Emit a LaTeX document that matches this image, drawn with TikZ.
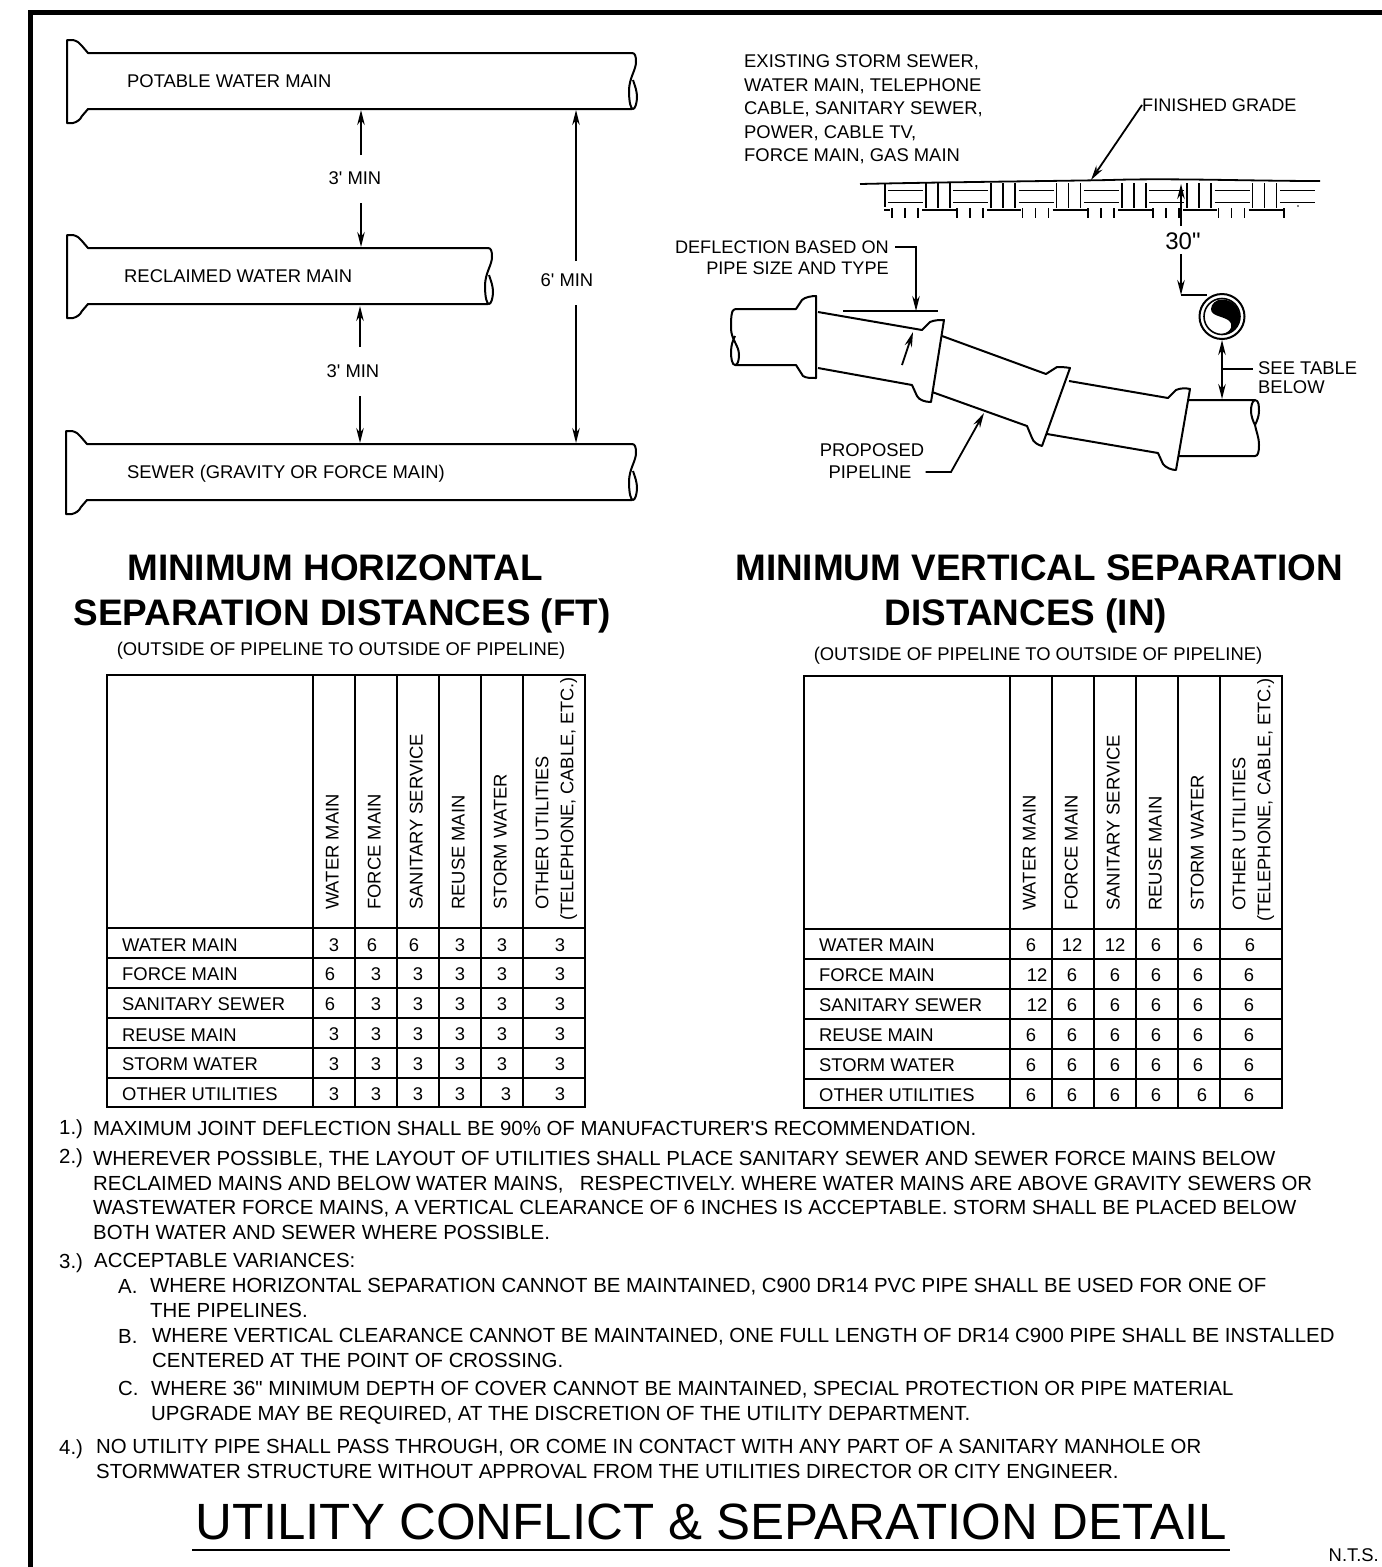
\documentclass[tikz,border=0pt]{standalone}
\usepackage{fontspec}
\setmainfont{Liberation Sans}[Ligatures=TeXOff]
\usetikzlibrary{arrows.meta}
\tikzset{
  lab/.style={inner sep=0pt,text height=13.2pt,text depth=0pt,font=\fontsize{18.4}{22}\selectfont,text=black},
  labnarrow/.style={lab,font=\fontsize{18.15}{22}\selectfont},
  note/.style={inner sep=0pt,anchor=north west,align=left,font=\fontsize{20.4}{24.7}\selectfont,text=black},
  val/.style={lab,anchor=center},
  rowlab/.style={lab,anchor=west},
  collab/.style={lab,rotate=90,anchor=west},
  heading/.style={inner sep=0pt,font=\bfseries\fontsize{36.9}{37}\selectfont,text height=26.5pt,text depth=0pt},
  pipeline/.style={line width=2pt,line join=round},
  lead/.style={line width=1.8pt},
  tipa/.style={lead,-{Stealth[length=15pt,width=7.5pt]}},
  tipb/.style={lead,{Stealth[length=15pt,width=7.5pt]}-{Stealth[length=15pt,width=7.5pt]}},
  hatch/.style={line width=1.7pt},
  grid/.style={line width=2pt}
}
\newcommand{\hpipe}[3]{%
\begin{scope}[shift={(#1,#2)}]
\draw[pipeline] (#3,0) -- (21,0) -- (15,-7) .. controls (13,-10) and (10,-12) .. (6,-13) -- (0,-13) -- (0,70) -- (6,70) .. controls (10,69) and (13,67) .. (15,63) -- (21,56) -- (#3,56);
\begin{scope}[shift={(#3,0)}]
\draw[pipeline] (0,0) .. controls (3,0) and (4,3) .. (4,9) .. controls (4,17) and (-3,25) .. (-3,38) .. controls (-3,50) and (-1,56) .. (1,56) .. controls (3,56) and (5,50) .. (5,44) .. controls (5,38) and (3,33) .. (1,27);
\end{scope}
\end{scope}}
\newcommand{\tablegrid}[2]{%
\begin{scope}[shift={(#1,#2)}]
\draw[grid] (0,0) rectangle (478,432);
\foreach \v in {206,248,290,332,374,416} \draw[grid] (\v,0) -- (\v,432);
\foreach \h in {253,283,313,343,373,403} \draw[grid] (0,\h) -- (478,\h);
\end{scope}}
\begin{document}
\begin{tikzpicture}[x=1pt,y=-1pt]
\useasboundingbox (0,0) rectangle (1382,1567);
\fill[white] (0,0) rectangle (1382,1567);
\draw[line width=5.5pt] (30.5,1567) -- (30.5,12.5) -- (1382,12.5);

% left pipes
\hpipe{67}{53}{565}
\hpipe{67}{248}{421}
\hpipe{66}{444}{566}
\node[lab,anchor=west] (potable) at (127,81) {POTABLE WATER MAIN};
\node[lab,anchor=west] (reclaimed) at (124,276) {RECLAIMED WATER MAIN};
\node[lab,anchor=west] (sewer) at (127,472) {SEWER (GRAVITY OR FORCE MAIN)};
\node[lab] (dimA) at (355,178) {3' MIN};
\node[lab] (dimB) at (353,371) {3' MIN};
\node[lab] (dimC) at (567,280) {6' MIN};
\coordinate (a1) at (361,110); \coordinate (a2) at (361,155);
\coordinate (a3) at (361,203); \coordinate (a4) at (361,247);
\coordinate (b1) at (360,306); \coordinate (b2) at (360,347);
\coordinate (b3) at (360,396); \coordinate (b4) at (360,443);
\coordinate (c1) at (576,110); \coordinate (c2) at (576,261);
\coordinate (c3) at (576,305); \coordinate (c4) at (576,443);
\draw[tipa] (a2) -- (a1);
\draw[tipa] (a3) -- (a4);
\draw[tipa] (b2) -- (b1);
\draw[tipa] (b3) -- (b4);
\draw[tipa] (c2) -- (c1);
\draw[tipa] (c3) -- (c4);

% upper right texts
\node[note,font=\fontsize{18.4}{23.5}\selectfont] (exist) at (744,54.5) {EXISTING STORM SEWER,\\WATER MAIN, TELEPHONE\\CABLE, SANITARY SEWER,\\POWER, CABLE TV,\\FORCE MAIN, GAS MAIN};
\node[labnarrow,anchor=west] (grade) at (1142,105) {FINISHED GRADE};
\coordinate (gradepoint) at (1091,180);
\draw[tipa] (grade.west) -- (gradepoint);

% ground
\draw[line width=1.8pt] (860,184) .. controls (950,182) and (1060,181) .. (1110,180) .. controls (1170,178) and (1250,181) .. (1320,181);
\foreach \k in {0,...,6} {
  \draw[hatch] ({888+65.3*\k},190.5) -- ({923+65.3*\k},190.5);
  \draw[hatch] ({888+65.3*\k},202.5) -- ({923+65.3*\k},202.5);
}
\draw[hatch] (885,183) -- (885,207);
\foreach \k in {0,...,5} {
  \foreach \d in {0,12,24} \draw[hatch] ({926+65.3*\k+\d},183) -- ({926+65.3*\k+\d},208);
  \draw[hatch] ({922+65.3*\k},210) -- ({956+65.3*\k},210);
}
\draw[hatch] (884,210) -- (890,210);
\foreach \k in {0,...,5} {
  \foreach \d in {0,13,26} \draw[hatch] ({892+65.3*\k+\d},208) -- ({892+65.3*\k+\d},218);
}
\draw[hatch] (1284,208) -- (1284,218);
\fill (1298,206) circle (0.8);

% 30 inch dimension
\node[inner sep=0pt,font=\fontsize{24}{24}\selectfont] (thirty) at (1183,241) {30"};
\coordinate (t1) at (1181,184); \coordinate (t2) at (1181,226);
\coordinate (t3) at (1181,254); \coordinate (t4) at (1181,295); \coordinate (t5) at (1207,295);
\draw[tipa] (t2) -- (t1);
\draw[tipa] (t3) -- (t4);
\draw[lead] (t4) -- (t5);

% crossing pipe
\coordinate (cross) at (1222,316.5);
\draw[line width=2pt] (cross) circle (22.5);
\draw[line width=1.6pt] (cross) circle (18);
\fill (1222,334) .. controls (1233,334) and (1239.5,326) .. (1239.5,316.5) .. controls (1239.5,306) and (1231,299.5) .. (1222,299.5) .. controls (1216,299.5) and (1211,304) .. (1211,309) .. controls (1211,316) and (1222,316) .. (1228,320) .. controls (1234,324) and (1232,332) .. (1222,334) -- cycle;

% deflection label
\node[labnarrow,anchor=east] (defl) at (889,247) {DEFLECTION BASED ON};
\node[labnarrow,anchor=east] (defl2) at (889,268) {PIPE SIZE AND TYPE};
\coordinate (dc) at (916,247); \coordinate (dd) at (916,311);
\draw[tipa] (defl.east) ++(6,0) -- (dc) -- (dd);
\coordinate (rl) at (843,311); \coordinate (rr) at (938,311);
\draw[lead] (rl) -- (rr);
\coordinate (sa) at (902,365); \coordinate (sb) at (913,332);
\draw[tipa] (sa) -- (sb);

% proposed pipeline
\draw[pipeline] (735,309) -- (796,309) -- (802,300) .. controls (805,297) and (812,296) .. (816,296) -- (816,378) .. controls (810,378) and (806,378) .. (803,376) -- (796,365) -- (735,365);
\draw[pipeline] (735,309) .. controls (731,309) and (731,320) .. (731,328) .. controls (731,340) and (739,345) .. (739,355) .. controls (739,362) and (737,365) .. (735,365) .. controls (732,365) and (731,358) .. (731,352) .. controls (731,345) and (733,340) .. (735,336);
\draw[pipeline] (818,312) -- (922,330) -- (930,322) .. controls (934,320) and (940,320) .. (944,320) -- (931,402) .. controls (925,402) and (919,400) .. (917,396) -- (912,385) -- (818,368);
\draw[pipeline] (942,336) -- (1046,374) -- (1057,367) .. controls (1060,367) and (1065,367) .. (1070,368) -- (1042,446) .. controls (1038,445) and (1033,442) .. (1032,438) -- (1027,426) -- (932,392);
\draw[pipeline] (1069,381) -- (1168,398) -- (1176,390) .. controls (1180,388) and (1186,388) .. (1190,389) -- (1176,470) .. controls (1172,470) and (1166,468) .. (1163,464) -- (1158,453) -- (1047,434);
\draw[pipeline] (1189,400) -- (1255,400) .. controls (1259,400) and (1259,407) .. (1259,411) .. controls (1259,416) and (1257,421) .. (1255,425) .. controls (1256,431) and (1259,437) .. (1259,445) .. controls (1259,452) and (1258,456) .. (1255,456) -- (1178,456);
\draw[pipeline] (1255,400) .. controls (1252,401) and (1251,406) .. (1251,411) .. controls (1251,416) and (1253,421) .. (1255,425);

% see table
\node[note,font=\fontsize{18.4}{19.2}\selectfont] (seetable) at (1258,361.5) {SEE TABLE\\BELOW};
\coordinate (s1) at (1222,340); \coordinate (s2) at (1222,399); \coordinate (s3) at (1222,369); \coordinate (s4) at (1253,369);
\draw[tipb] (s1) -- (s2);
\draw[lead] (s3) -- (s4);

% proposed label
\node[lab] (prop1) at (872,450) {PROPOSED};
\node[lab] (prop2) at (870,472) {PIPELINE};
\coordinate (pc) at (951,472); \coordinate (pd) at (984,413);
\draw[tipa] (prop2.east) ++(14,0) -- (pc) -- (pd);

% headings
\node[heading] (h1) at (335,567) {MINIMUM HORIZONTAL};
\node[heading] (h2) at (342,612) {SEPARATION DISTANCES (FT)};
\node[heading] (h3) at (1039,567) {MINIMUM VERTICAL SEPARATION};
\node[heading] (h4) at (1026,612) {DISTANCES (IN)};
\node[lab] (sub1) at (341,649) {(OUTSIDE OF PIPELINE TO OUTSIDE OF PIPELINE)};
\node[lab] (sub2) at (1038,654) {(OUTSIDE OF PIPELINE TO OUTSIDE OF PIPELINE)};

% tables
\tablegrid{107}{675}
\tablegrid{804}{676}
\foreach \xo/\yo/\tn in {0/0/L,697/1/R} {
  \node[collab] (\tn hA) at ({332+\xo},{910+\yo}) {WATER MAIN};
  \node[collab] (\tn hB) at ({374+\xo},{910+\yo}) {FORCE MAIN};
  \node[collab] (\tn hC) at ({416+\xo},{910+\yo}) {SANITARY SERVICE};
  \node[collab] (\tn hD) at ({458+\xo},{910+\yo}) {REUSE MAIN};
  \node[collab] (\tn hE) at ({500+\xo},{910+\yo}) {STORM WATER};
  \node[inner sep=0pt,rotate=90,anchor=north west,align=left,font=\fontsize{18.2}{25}\selectfont] (\tn hF) at ({535.5+\xo},{921+\yo}) {\hspace*{11pt}OTHER UTILITIES\\(TELEPHONE, CABLE, ETC.)};
  \node[rowlab] (\tn rA) at ({122+\xo},{945}) {WATER MAIN};
  \node[rowlab] (\tn rB) at ({122+\xo},{974+\yo}) {FORCE MAIN};
  \node[rowlab] (\tn rC) at ({122+\xo},{1004+\yo}) {SANITARY SEWER};
  \node[rowlab] (\tn rD) at ({122+\xo},{1035}) {REUSE MAIN};
  \node[rowlab] (\tn rE) at ({122+\xo},{1064+\yo}) {STORM WATER};
  \node[rowlab] (\tn rF) at ({122+\xo},{1094+\yo}) {OTHER UTILITIES};
}
\foreach \px/\py/\v [count=\n] in {
 334/945/3,372/945/6,414/945/6,460/945/3,502/945/3,560/945/3,
 330/974/6,376/974/3,418/974/3,460/974/3,502/974/3,560/974/3,
 330/1004/6,376/1004/3,418/1004/3,460/1004/3,502/1004/3,560/1004/3,
 334/1034/3,376/1034/3,418/1034/3,460/1034/3,502/1034/3,560/1034/3,
 334/1064/3,376/1064/3,418/1064/3,460/1064/3,502/1064/3,560/1064/3,
 334/1094/3,376/1094/3,418/1094/3,460/1094/3,506/1094/3,560/1094/3}
 \node[val] (lv\n) at (\px,\py) {\v};
\foreach \px/\py/\v [count=\n] in {
 1031/945/6,1072/945/12,1115/945/12,1156/945/6,1198/945/6,1250/945/6,
 1037/975/12,1072/975/6,1115/975/6,1156/975/6,1198/975/6,1249/975/6,
 1037/1005/12,1072/1005/6,1115/1005/6,1156/1005/6,1198/1005/6,1249/1005/6,
 1031/1035/6,1072/1035/6,1115/1035/6,1156/1035/6,1198/1035/6,1249/1035/6,
 1031/1065/6,1072/1065/6,1115/1065/6,1156/1065/6,1198/1065/6,1249/1065/6,
 1031/1095/6,1072/1095/6,1115/1095/6,1156/1095/6,1202/1095/6,1249/1095/6}
 \node[val] (rv\n) at (\px,\py) {\v};

% notes
\node[note] (n1) at (59,1120) {1.)};
\node[note] (n1t) at (93,1121) {MAXIMUM JOINT DEFLECTION SHALL BE 90\% OF MANUFACTURER'S RECOMMENDATION.};
\node[note] (n2) at (59,1149) {2.)};
\node[note] (n2t) at (93,1151) {WHEREVER POSSIBLE, THE LAYOUT OF UTILITIES SHALL PLACE SANITARY SEWER AND SEWER FORCE MAINS BELOW\\RECLAIMED MAINS AND BELOW WATER MAINS,\ \ \hspace{5pt}RESPECTIVELY. WHERE WATER MAINS ARE ABOVE GRAVITY SEWERS OR\\WASTEWATER FORCE MAINS, A VERTICAL CLEARANCE OF 6 INCHES IS ACCEPTABLE. STORM SHALL BE PLACED BELOW\\BOTH WATER AND SEWER WHERE POSSIBLE.};
\node[note] (n3) at (59,1254) {3.)};
\node[note] (n3t) at (94,1253) {ACCEPTABLE VARIANCES:};
\node[note] (nA) at (118,1279) {A.};
\node[note] (nAt) at (150,1278) {WHERE HORIZONTAL SEPARATION CANNOT BE MAINTAINED, C900 DR14 PVC PIPE SHALL BE USED FOR ONE OF\\THE PIPELINES.};
\node[note] (nB) at (118,1329) {B.};
\node[note] (nBt) at (152,1328) {WHERE VERTICAL CLEARANCE CANNOT BE MAINTAINED, ONE FULL LENGTH OF DR14 C900 PIPE SHALL BE INSTALLED\\CENTERED AT THE POINT OF CROSSING.};
\node[note] (nC) at (118,1381) {C.};
\node[note] (nCt) at (151,1381) {WHERE 36" MINIMUM DEPTH OF COVER CANNOT BE MAINTAINED, SPECIAL PROTECTION OR PIPE MATERIAL\\UPGRADE MAY BE REQUIRED, AT THE DISCRETION OF THE UTILITY DEPARTMENT.};
\node[note] (n4) at (59,1439) {4.)};
\node[note] (n4t) at (96,1439) {NO UTILITY PIPE SHALL PASS THROUGH, OR COME IN CONTACT WITH ANY PART OF A SANITARY MANHOLE OR\\STORMWATER STRUCTURE WITHOUT APPROVAL FROM THE UTILITIES DIRECTOR OR CITY ENGINEER.};

% main title
\node[inner sep=0pt,font=\fontsize{51}{51}\selectfont,text height=36.5pt,text depth=0pt] (title) at (711,1521) {UTILITY CONFLICT \& SEPARATION DETAIL};
\coordinate (ul) at (192,1550); \coordinate (ur) at (1230,1550);
\draw[line width=2pt] (ul) -- (ur);
\node[lab,anchor=east] (nts) at (1379,1555) {N.T.S.};
\end{tikzpicture}
\end{document}
